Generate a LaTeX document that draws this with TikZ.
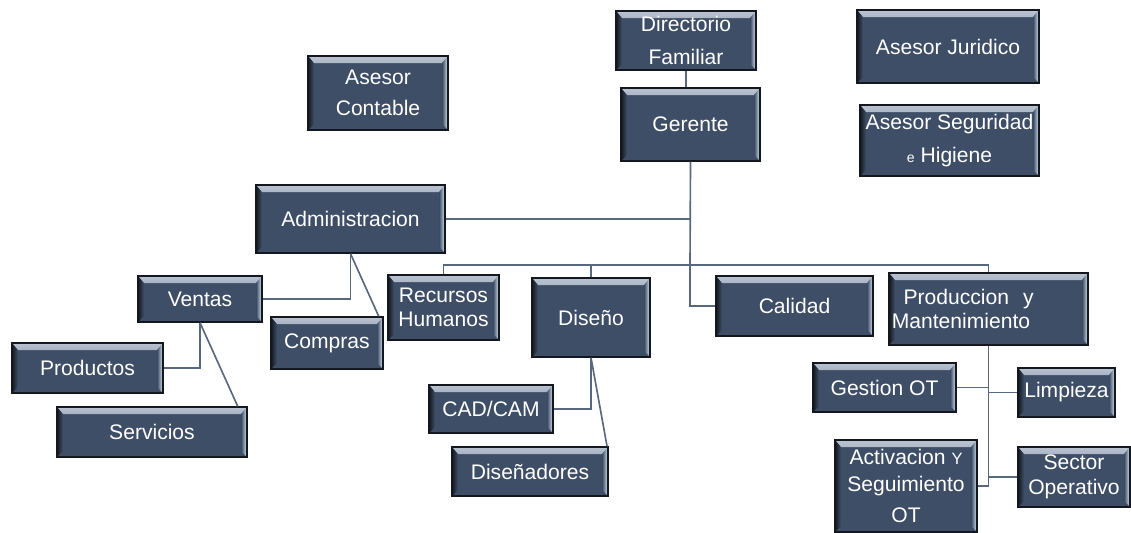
\documentclass[tikz,border=0pt]{standalone}
\usepackage{fontspec}
\setmainfont{Liberation Sans}
\usetikzlibrary{positioning,calc}

\definecolor{boxfill}{RGB}{62,78,102}
\definecolor{boxedge}{RGB}{20,24,30}
\definecolor{boxlight}{RGB}{185,195,210}
\definecolor{boxside}{RGB}{215,232,245}
\definecolor{linecol}{RGB}{88,104,126}

\tikzset{
  orgbox/.style={fill=boxfill, draw=boxedge, line width=1.2pt, text=white,
    align=center, inner sep=2pt, font=\fontsize{18}{21}\selectfont,
    path picture={
      \shade[top color=boxlight, bottom color=boxfill] (path picture bounding box.north west) -- (path picture bounding box.north east)
        -- ([xshift=-5pt,yshift=-6pt]path picture bounding box.north east)
        -- ([xshift=5pt,yshift=-6pt]path picture bounding box.north west) -- cycle;
      \shade[left color=boxfill, right color=boxside] (path picture bounding box.north east) -- (path picture bounding box.south east)
        -- ([xshift=-5pt,yshift=5pt]path picture bounding box.south east)
        -- ([xshift=-5pt,yshift=-6pt]path picture bounding box.north east) -- cycle;
      \shade[left color=boxedge, right color=boxfill] (path picture bounding box.north west) -- (path picture bounding box.south west)
        -- ([xshift=5pt,yshift=5pt]path picture bounding box.south west)
        -- ([xshift=5pt,yshift=-6pt]path picture bounding box.north west) -- cycle;
    }},
  conn/.style={draw=linecol, line width=1.4pt}
}

\begin{document}
\begin{tikzpicture}[x=0.03cm, y=-0.03cm]
  \useasboundingbox (0,0) rectangle (1131,532);
  % top of the chart
  \node[orgbox, minimum width=4.2cm, minimum height=1.77cm, font=\fontsize{18}{28}\selectfont] (dir) at (686,40.5) {Directorio\\Familiar};
  \node[orgbox, minimum width=4.17cm, minimum height=2.19cm] (ger) at (690.5,124.5) {Gerente};
  \node[orgbox, minimum width=4.2cm, minimum height=2.22cm, font=\fontsize{18}{26}\selectfont] (cont) at (378,93) {Asesor\\Contable};
  \node[orgbox, minimum width=5.46cm, minimum height=2.19cm] (jur) at (948,46.5) {Asesor Juridico};
  \node[orgbox, minimum width=5.37cm, minimum height=2.13cm, inner sep=0pt, font=\fontsize{18}{28}\selectfont] (seg) at (949.5,140.5) {Asesor Seguridad\\{\fontsize{12}{14}\selectfont e}\ Higiene};
  % second level
  \node[orgbox, minimum width=5.67cm, minimum height=2.04cm] (adm) at (350.5,219) {Administracion};
  \node[orgbox, minimum width=3.33cm, minimum height=1.95cm, inner sep=0pt] (rh) at (443.5,307.5) {Recursos\\Humanos};
  \node[orgbox, minimum width=3.54cm, minimum height=2.37cm] (dis) at (591,317.5) {Diseño};
  \node[orgbox, minimum width=4.71cm, minimum height=1.8cm] (cal) at (794.5,306) {Calidad};
  \node[orgbox, minimum width=5.97cm, minimum height=2.16cm, text width=5.8cm, align=left] (prod) at (988.5,309) {\hspace{0.35cm}Produccion~~y\\Mantenimiento};
  % under Administracion
  \node[orgbox, minimum width=3.72cm, minimum height=1.38cm] (ven) at (200,299) {Ventas};
  \node[orgbox, minimum width=3.36cm, minimum height=1.56cm] (comp) at (327,343) {Compras};
  \node[orgbox, minimum width=4.53cm, minimum height=1.5cm] (prodt) at (87.5,368) {Productos};
  \node[orgbox, minimum width=5.7cm, minimum height=1.5cm] (serv) at (152,432) {Servicios};
  % under Diseno
  \node[orgbox, minimum width=3.72cm, minimum height=1.44cm] (cad) at (491,409) {CAD/CAM};
  \node[orgbox, minimum width=4.68cm, minimum height=1.47cm] (dsn) at (530,471.5) {Diseñadores};
  % under Produccion
  \node[orgbox, minimum width=4.29cm, minimum height=1.47cm] (got) at (884.5,387.5) {Gestion OT};
  \node[orgbox, minimum width=2.91cm, minimum height=1.47cm, inner sep=0pt] (lim) at (1066.5,392.5) {Limpieza};
  \node[orgbox, minimum width=4.26cm, minimum height=2.76cm, font=\fontsize{18}{23}\selectfont] (act) at (906,486) {Activacion {\fontsize{14}{16}\selectfont Y}\\Seguimiento\\[4pt]OT};
  \node[orgbox, minimum width=3.36cm, minimum height=1.8cm, inner sep=0pt] (sec) at (1074,477) {Sector\\Operativo};
  \coordinate (bus) at (690,265);

  % connectors
  \draw[conn] (dir.south) -- (dir.south |- ger.north);
  \draw[conn] (ger.south) -- (bus);
  \draw[conn] (adm.east) -- (adm.east -| bus);
  \draw[conn] (rh.north) |- (bus) -| (prod.north);
  \draw[conn] (dis.north) -- (dis.north |- bus);
  \draw[conn] (bus) |- (cal.west);
  \draw[conn] (adm.south) |- (ven.east);
  \draw[conn] (adm.south) -- ([xshift=-0.15cm]comp.north east);
  \draw[conn] (ven.south) |- (prodt.east);
  \draw[conn] (ven.south) -- ([xshift=-0.3cm]serv.north east);
  \draw[conn] (dis.south) |- (cad.east);
  \draw[conn] (dis.south) -- ([xshift=-0.05cm]dsn.north east);
  \draw[conn] (prod.south) |- (sec.west);
  \draw[conn] (got.east) -- (got.east -| prod.south);
  \draw[conn] (lim.west) -- (lim.west -| prod.south);
  \draw[conn] (act.east) -| (prod.south);
\end{tikzpicture}
\end{document}
